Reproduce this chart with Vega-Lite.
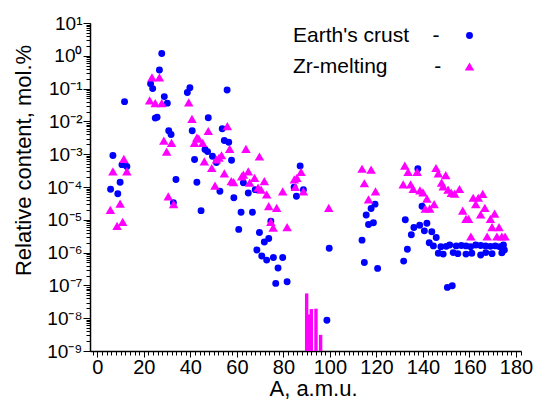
{
  "$schema": "https://vega.github.io/schema/vega-lite/v6.json",
  "width": 431,
  "height": 328,
  "autosize": "none",
  "padding": {"left": 90, "top": 23, "right": 18, "bottom": 52},
  "background": "white",
  "config": {
    "view": {"stroke": null},
    "font": "Liberation Sans",
    "axis": {
      "grid": false,
      "domainColor": "black",
      "domainWidth": 1.5,
      "tickColor": "black",
      "labelColor": "black",
      "titleColor": "black",
      "labelFont": "Liberation Sans",
      "titleFont": "Liberation Sans",
      "titleFontWeight": "normal"
    }
  },
  "datasets": {
    "pts": [
      {"A": 5.7, "v": 8.5e-5, "series": "Earth's crust"},
      {"A": 6.7, "v": 9.1e-4, "series": "Earth's crust"},
      {"A": 8.8, "v": 6.2e-5, "series": "Earth's crust"},
      {"A": 9.8, "v": 1.4e-4, "series": "Earth's crust"},
      {"A": 10.6, "v": 4.8e-4, "series": "Earth's crust"},
      {"A": 12.7, "v": 4.2e-4, "series": "Earth's crust"},
      {"A": 11.7, "v": 4.0e-2, "series": "Earth's crust"},
      {"A": 22.9, "v": 0.14, "series": "Earth's crust"},
      {"A": 23.8, "v": 0.10, "series": "Earth's crust"},
      {"A": 24.9, "v": 1.26e-2, "series": "Earth's crust"},
      {"A": 25.7, "v": 1.35e-2, "series": "Earth's crust"},
      {"A": 26.7, "v": 0.37, "series": "Earth's crust"},
      {"A": 27.7, "v": 1.17, "series": "Earth's crust"},
      {"A": 28.8, "v": 5.7e-2, "series": "Earth's crust"},
      {"A": 30.1, "v": 3.6e-2, "series": "Earth's crust"},
      {"A": 30.7, "v": 5.2e-3, "series": "Earth's crust"},
      {"A": 31.7, "v": 4.0e-3, "series": "Earth's crust"},
      {"A": 33.8, "v": 1.7e-4, "series": "Earth's crust"},
      {"A": 32.7, "v": 3.3e-5, "series": "Earth's crust"},
      {"A": 38.7, "v": 7.6e-2, "series": "Earth's crust"},
      {"A": 39.8, "v": 0.107, "series": "Earth's crust"},
      {"A": 40.8, "v": 5.2e-3, "series": "Earth's crust"},
      {"A": 41.8, "v": 6.9e-4, "series": "Earth's crust"},
      {"A": 42.8, "v": 1.4e-4, "series": "Earth's crust"},
      {"A": 44.6, "v": 1.9e-5, "series": "Earth's crust"},
      {"A": 46.3, "v": 1.4e-3, "series": "Earth's crust"},
      {"A": 47.4, "v": 1.2e-3, "series": "Earth's crust"},
      {"A": 47.7, "v": 1.3e-2, "series": "Earth's crust"},
      {"A": 49.5, "v": 8.7e-4, "series": "Earth's crust"},
      {"A": 51.2, "v": 5.6e-4, "series": "Earth's crust"},
      {"A": 52.7, "v": 7.4e-5, "series": "Earth's crust"},
      {"A": 53.7, "v": 6.0e-3, "series": "Earth's crust"},
      {"A": 54.6, "v": 2.6e-3, "series": "Earth's crust"},
      {"A": 56.5, "v": 2.3e-3, "series": "Earth's crust"},
      {"A": 55.8, "v": 9.1e-2, "series": "Earth's crust"},
      {"A": 57.7, "v": 6.5e-4, "series": "Earth's crust"},
      {"A": 58.7, "v": 4.7e-5, "series": "Earth's crust"},
      {"A": 60.8, "v": 5.1e-6, "series": "Earth's crust"},
      {"A": 61.8, "v": 1.7e-5, "series": "Earth's crust"},
      {"A": 62.8, "v": 1.35e-4, "series": "Earth's crust"},
      {"A": 64.9, "v": 6.6e-5, "series": "Earth's crust"},
      {"A": 66.7, "v": 1.7e-5, "series": "Earth's crust"},
      {"A": 67.9, "v": 8.3e-5, "series": "Earth's crust"},
      {"A": 68.6, "v": 1.2e-6, "series": "Earth's crust"},
      {"A": 69.7, "v": 4.1e-6, "series": "Earth's crust"},
      {"A": 70.7, "v": 7.9e-7, "series": "Earth's crust"},
      {"A": 71.8, "v": 2.1e-6, "series": "Earth's crust"},
      {"A": 72.8, "v": 5.9e-7, "series": "Earth's crust"},
      {"A": 73.7, "v": 2.7e-6, "series": "Earth's crust"},
      {"A": 74.6, "v": 9.1e-6, "series": "Earth's crust"},
      {"A": 75.7, "v": 7.1e-7, "series": "Earth's crust"},
      {"A": 77.7, "v": 3.4e-7, "series": "Earth's crust"},
      {"A": 76.7, "v": 1.15e-7, "series": "Earth's crust"},
      {"A": 79.7, "v": 7.1e-7, "series": "Earth's crust"},
      {"A": 81.6, "v": 1.3e-7, "series": "Earth's crust"},
      {"A": 84.6, "v": 9.8e-5, "series": "Earth's crust"},
      {"A": 85.6, "v": 5.2e-5, "series": "Earth's crust"},
      {"A": 87.2, "v": 4.4e-4, "series": "Earth's crust"},
      {"A": 88.6, "v": 8.3e-5, "series": "Earth's crust"},
      {"A": 98.7, "v": 8.7e-9, "series": "Earth's crust"},
      {"A": 99.7, "v": 1.35e-6, "series": "Earth's crust"},
      {"A": 113.8, "v": 2.4e-6, "series": "Earth's crust"},
      {"A": 114.8, "v": 5.0e-7, "series": "Earth's crust"},
      {"A": 115.6, "v": 1.4e-5, "series": "Earth's crust"},
      {"A": 116.6, "v": 7.2e-6, "series": "Earth's crust"},
      {"A": 118.7, "v": 8.1e-6, "series": "Earth's crust"},
      {"A": 117.7, "v": 2.2e-5, "series": "Earth's crust"},
      {"A": 119.4, "v": 3.0e-5, "series": "Earth's crust"},
      {"A": 120.5, "v": 3.3e-7, "series": "Earth's crust"},
      {"A": 131.7, "v": 5.5e-7, "series": "Earth's crust"},
      {"A": 132.4, "v": 1.0e-5, "series": "Earth's crust"},
      {"A": 133.3, "v": 1.26e-6, "series": "Earth's crust"},
      {"A": 135.0, "v": 3.5e-6, "series": "Earth's crust"},
      {"A": 136.1, "v": 5.8e-6, "series": "Earth's crust"},
      {"A": 137.8, "v": 3.6e-4, "series": "Earth's crust"},
      {"A": 138.6, "v": 6.8e-6, "series": "Earth's crust"},
      {"A": 139.6, "v": 2.6e-5, "series": "Earth's crust"},
      {"A": 140.6, "v": 4.6e-6, "series": "Earth's crust"},
      {"A": 141.7, "v": 7.8e-6, "series": "Earth's crust"},
      {"A": 142.7, "v": 2.0e-6, "series": "Earth's crust"},
      {"A": 143.8, "v": 4.3e-6, "series": "Earth's crust"},
      {"A": 145.7, "v": 2.9e-6, "series": "Earth's crust"},
      {"A": 144.5, "v": 1.6e-6, "series": "Earth's crust"},
      {"A": 147.7, "v": 1.5e-6, "series": "Earth's crust"},
      {"A": 150.0, "v": 1.55e-6, "series": "Earth's crust"},
      {"A": 151.5, "v": 1.7e-6, "series": "Earth's crust"},
      {"A": 154.3, "v": 1.6e-6, "series": "Earth's crust"},
      {"A": 156.5, "v": 1.65e-6, "series": "Earth's crust"},
      {"A": 158.5, "v": 1.6e-6, "series": "Earth's crust"},
      {"A": 160.5, "v": 1.5e-6, "series": "Earth's crust"},
      {"A": 162.7, "v": 1.7e-6, "series": "Earth's crust"},
      {"A": 164.8, "v": 1.65e-6, "series": "Earth's crust"},
      {"A": 166.9, "v": 1.6e-6, "series": "Earth's crust"},
      {"A": 169.0, "v": 1.55e-6, "series": "Earth's crust"},
      {"A": 171.1, "v": 1.6e-6, "series": "Earth's crust"},
      {"A": 173.0, "v": 1.5e-6, "series": "Earth's crust"},
      {"A": 174.6, "v": 1.7e-6, "series": "Earth's crust"},
      {"A": 146.6, "v": 9.5e-7, "series": "Earth's crust"},
      {"A": 148.7, "v": 9.0e-7, "series": "Earth's crust"},
      {"A": 153.0, "v": 1.0e-6, "series": "Earth's crust"},
      {"A": 155.0, "v": 9.3e-7, "series": "Earth's crust"},
      {"A": 158.5, "v": 9.0e-7, "series": "Earth's crust"},
      {"A": 161.0, "v": 9.5e-7, "series": "Earth's crust"},
      {"A": 164.8, "v": 8.5e-7, "series": "Earth's crust"},
      {"A": 167.0, "v": 1.0e-6, "series": "Earth's crust"},
      {"A": 169.7, "v": 9.3e-7, "series": "Earth's crust"},
      {"A": 173.9, "v": 9.8e-7, "series": "Earth's crust"},
      {"A": 175.0, "v": 1.2e-6, "series": "Earth's crust"},
      {"A": 150.5, "v": 8.7e-8, "series": "Earth's crust"},
      {"A": 152.6, "v": 9.8e-8, "series": "Earth's crust"},
      {"A": 5.6, "v": 2.0e-5, "series": "Zr-melting"},
      {"A": 6.7, "v": 3.0e-4, "series": "Zr-melting"},
      {"A": 8.5, "v": 6.5e-6, "series": "Zr-melting"},
      {"A": 9.8, "v": 3.1e-5, "series": "Zr-melting"},
      {"A": 10.9, "v": 8.7e-6, "series": "Zr-melting"},
      {"A": 11.4, "v": 7.2e-4, "series": "Zr-melting"},
      {"A": 12.7, "v": 3.0e-4, "series": "Zr-melting"},
      {"A": 22.5, "v": 4.4e-2, "series": "Zr-melting"},
      {"A": 23.5, "v": 0.22, "series": "Zr-melting"},
      {"A": 24.9, "v": 3.6e-2, "series": "Zr-melting"},
      {"A": 26.7, "v": 0.22, "series": "Zr-melting"},
      {"A": 27.7, "v": 3.6e-2, "series": "Zr-melting"},
      {"A": 28.6, "v": 2.6e-3, "series": "Zr-melting"},
      {"A": 29.8, "v": 1.2e-3, "series": "Zr-melting"},
      {"A": 31.9, "v": 2.2e-3, "series": "Zr-melting"},
      {"A": 30.5, "v": 5.2e-5, "series": "Zr-melting"},
      {"A": 32.8, "v": 3.0e-5, "series": "Zr-melting"},
      {"A": 39.3, "v": 3.8e-2, "series": "Zr-melting"},
      {"A": 40.7, "v": 1.2e-2, "series": "Zr-melting"},
      {"A": 41.8, "v": 2.2e-3, "series": "Zr-melting"},
      {"A": 42.8, "v": 3.2e-3, "series": "Zr-melting"},
      {"A": 43.6, "v": 3.0e-3, "series": "Zr-melting"},
      {"A": 45.3, "v": 2.2e-3, "series": "Zr-melting"},
      {"A": 46.0, "v": 6.0e-4, "series": "Zr-melting"},
      {"A": 47.7, "v": 5.1e-3, "series": "Zr-melting"},
      {"A": 49.2, "v": 3.8e-4, "series": "Zr-melting"},
      {"A": 50.6, "v": 1.1e-4, "series": "Zr-melting"},
      {"A": 51.2, "v": 6.9e-4, "series": "Zr-melting"},
      {"A": 52.3, "v": 7.8e-4, "series": "Zr-melting"},
      {"A": 53.4, "v": 9.3e-4, "series": "Zr-melting"},
      {"A": 54.6, "v": 2.6e-4, "series": "Zr-melting"},
      {"A": 55.9, "v": 7.2e-3, "series": "Zr-melting"},
      {"A": 56.9, "v": 1.45e-3, "series": "Zr-melting"},
      {"A": 57.6, "v": 1.5e-4, "series": "Zr-melting"},
      {"A": 58.6, "v": 1.4e-4, "series": "Zr-melting"},
      {"A": 62.1, "v": 2.1e-4, "series": "Zr-melting"},
      {"A": 62.8, "v": 2.4e-4, "series": "Zr-melting"},
      {"A": 63.9, "v": 1.45e-3, "series": "Zr-melting"},
      {"A": 64.9, "v": 3.0e-4, "series": "Zr-melting"},
      {"A": 65.5, "v": 1.35e-4, "series": "Zr-melting"},
      {"A": 67.6, "v": 1.9e-4, "series": "Zr-melting"},
      {"A": 69.1, "v": 9.5e-5, "series": "Zr-melting"},
      {"A": 69.7, "v": 8.5e-4, "series": "Zr-melting"},
      {"A": 70.4, "v": 8.3e-5, "series": "Zr-melting"},
      {"A": 71.8, "v": 1.5e-4, "series": "Zr-melting"},
      {"A": 72.8, "v": 5.9e-5, "series": "Zr-melting"},
      {"A": 73.7, "v": 2.6e-5, "series": "Zr-melting"},
      {"A": 74.6, "v": 8.7e-6, "series": "Zr-melting"},
      {"A": 75.6, "v": 5.8e-6, "series": "Zr-melting"},
      {"A": 77.1, "v": 2.3e-5, "series": "Zr-melting"},
      {"A": 79.7, "v": 7.4e-5, "series": "Zr-melting"},
      {"A": 81.6, "v": 6.0e-6, "series": "Zr-melting"},
      {"A": 84.7, "v": 1.7e-4, "series": "Zr-melting"},
      {"A": 85.8, "v": 1.9e-4, "series": "Zr-melting"},
      {"A": 87.6, "v": 2.9e-4, "series": "Zr-melting"},
      {"A": 85.1, "v": 1.0e-4, "series": "Zr-melting"},
      {"A": 88.6, "v": 7.4e-5, "series": "Zr-melting"},
      {"A": 99.5, "v": 2.3e-5, "series": "Zr-melting"},
      {"A": 113.8, "v": 3.6e-4, "series": "Zr-melting"},
      {"A": 117.7, "v": 3.4e-4, "series": "Zr-melting"},
      {"A": 114.8, "v": 1.3e-4, "series": "Zr-melting"},
      {"A": 119.6, "v": 7.4e-5, "series": "Zr-melting"},
      {"A": 116.6, "v": 4.2e-5, "series": "Zr-melting"},
      {"A": 132.2, "v": 4.5e-4, "series": "Zr-melting"},
      {"A": 131.5, "v": 1.2e-4, "series": "Zr-melting"},
      {"A": 133.6, "v": 2.9e-4, "series": "Zr-melting"},
      {"A": 137.5, "v": 2.9e-4, "series": "Zr-melting"},
      {"A": 145.6, "v": 3.8e-4, "series": "Zr-melting"},
      {"A": 146.6, "v": 2.6e-4, "series": "Zr-melting"},
      {"A": 149.8, "v": 2.3e-4, "series": "Zr-melting"},
      {"A": 148.0, "v": 1.35e-4, "series": "Zr-melting"},
      {"A": 148.7, "v": 1.05e-4, "series": "Zr-melting"},
      {"A": 134.7, "v": 1.2e-4, "series": "Zr-melting"},
      {"A": 135.8, "v": 8.7e-5, "series": "Zr-melting"},
      {"A": 138.7, "v": 7.9e-5, "series": "Zr-melting"},
      {"A": 140.0, "v": 6.9e-5, "series": "Zr-melting"},
      {"A": 150.8, "v": 8.3e-5, "series": "Zr-melting"},
      {"A": 152.2, "v": 6.6e-5, "series": "Zr-melting"},
      {"A": 153.6, "v": 6.3e-5, "series": "Zr-melting"},
      {"A": 155.7, "v": 8.7e-5, "series": "Zr-melting"},
      {"A": 141.7, "v": 4.4e-5, "series": "Zr-melting"},
      {"A": 144.8, "v": 3.0e-5, "series": "Zr-melting"},
      {"A": 142.9, "v": 2.2e-5, "series": "Zr-melting"},
      {"A": 141.0, "v": 2.2e-5, "series": "Zr-melting"},
      {"A": 161.6, "v": 4.7e-5, "series": "Zr-melting"},
      {"A": 163.8, "v": 4.7e-5, "series": "Zr-melting"},
      {"A": 165.7, "v": 6.2e-5, "series": "Zr-melting"},
      {"A": 162.7, "v": 3.0e-5, "series": "Zr-melting"},
      {"A": 157.1, "v": 1.9e-5, "series": "Zr-melting"},
      {"A": 158.5, "v": 1.07e-5, "series": "Zr-melting"},
      {"A": 159.6, "v": 1.07e-5, "series": "Zr-melting"},
      {"A": 166.6, "v": 2.3e-5, "series": "Zr-melting"},
      {"A": 170.8, "v": 1.55e-5, "series": "Zr-melting"},
      {"A": 164.8, "v": 1.45e-5, "series": "Zr-melting"},
      {"A": 169.0, "v": 1.07e-5, "series": "Zr-melting"},
      {"A": 169.7, "v": 6.0e-6, "series": "Zr-melting"},
      {"A": 172.7, "v": 6.0e-6, "series": "Zr-melting"},
      {"A": 160.6, "v": 3.1e-6, "series": "Zr-melting"},
      {"A": 167.6, "v": 3.1e-6, "series": "Zr-melting"},
      {"A": 171.8, "v": 3.1e-6, "series": "Zr-melting"},
      {"A": 173.9, "v": 3.1e-6, "series": "Zr-melting"},
      {"A": 175.3, "v": 3.1e-6, "series": "Zr-melting"}
    ],
    "bars": [
      {"A": 90, "v": 5.7e-8},
      {"A": 91, "v": 1.3e-8},
      {"A": 92, "v": 1.9e-8},
      {"A": 94, "v": 1.95e-8},
      {"A": 96, "v": 3.1e-9}
    ]
  },
  "layer": [
    {
      "data": {"name": "bars"},
      "mark": {"type": "bar", "size": 3.4, "color": "#ff00ff"},
      "encoding": {
        "x": {
          "field": "A", "type": "quantitative",
          "scale": {"domain": [-1, 180], "nice": false, "zero": false},
          "axis": {"orient": "bottom", "tickCount": 90, "labels": false, "tickSize": 4, "tickWidth": 1, "title": null, "domain": false}
        },
        "y": {
          "field": "v", "type": "quantitative",
          "scale": {"type": "log", "domain": [1e-9, 10], "nice": false},
          "axis": {"orient": "left", "tickCount": 50, "labels": false, "tickSize": 4, "tickWidth": 1, "title": null, "domain": false}
        },
        "y2": {"datum": 1e-9}
      }
    },
    {
      "data": {"name": "pts"},
      "mark": {"type": "point", "filled": true, "opacity": 1},
      "encoding": {
        "x": {
          "field": "A", "type": "quantitative",
          "scale": {"domain": [-1, 180], "nice": false, "zero": false},
          "axis": {
            "orient": "bottom",
            "values": [0, 20, 40, 60, 80, 100, 120, 140, 160, 180],
            "tickSize": 6, "tickWidth": 1,
            "labelFontSize": 20, "labelPadding": 0,
            "title": "A, a.m.u.", "titleFontSize": 22,
            "titleX": 223, "titleY": 37, "titleBaseline": "middle", "titleAlign": "center"
          }
        },
        "y": {
          "field": "v", "type": "quantitative",
          "scale": {"type": "log", "domain": [1e-9, 10], "nice": false},
          "axis": {
            "orient": "left",
            "values": [1e-9, 1e-8, 1e-7, 1e-6, 1e-5, 1e-4, 1e-3, 1e-2, 1e-1, 1, 10],
            "tickSize": 7, "tickWidth": 1,
            "labelFontSize": 19, "labelPadding": 1,
            "labelExpr": "'10' + (datum.value < 0.5 ? '⁻' : '') + ['⁰','¹','²','³','⁴','⁵','⁶','⁷','⁸','⁹'][abs(round(log(datum.value)/LN10))]",
            "title": "Relative content, mol.%", "titleFontSize": 22,
            "titleX": -67, "titleY": 137, "titleAngle": -90, "titleBaseline": "middle", "titleAlign": "center"
          }
        },
        "color": {
          "field": "series", "type": "nominal",
          "scale": {"domain": ["Earth's crust", "Zr-melting"], "range": ["#0000ff", "#ff00ff"]},
          "legend": {
            "orient": "none", "legendX": 369, "legendY": 2, "title": null,
            "labelFontSize": 21, "labelColor": "black", "labelOffset": -187,
            "symbolSize": 42, "symbolStrokeWidth": 0, "rowPadding": 9,
            "labelExpr": "datum.value == 'Zr-melting' ? 'Zr-melting\u00a0\u00a0\u00a0\u00a0\u00a0\u00a0\u00a0\u00a0-' : datum.label + '\u00a0\u00a0\u00a0\u00a0-'"
          }
        },
        "shape": {
          "field": "series", "type": "nominal",
          "scale": {"domain": ["Earth's crust", "Zr-melting"], "range": ["circle", "triangle-up"]}
        },
        "size": {
          "field": "series", "type": "nominal",
          "scale": {"domain": ["Earth's crust", "Zr-melting"], "range": [48, 90]},
          "legend": null
        }
      }
    }
  ],
  "resolve": {"axis": {"x": "independent", "y": "independent"}}
}
